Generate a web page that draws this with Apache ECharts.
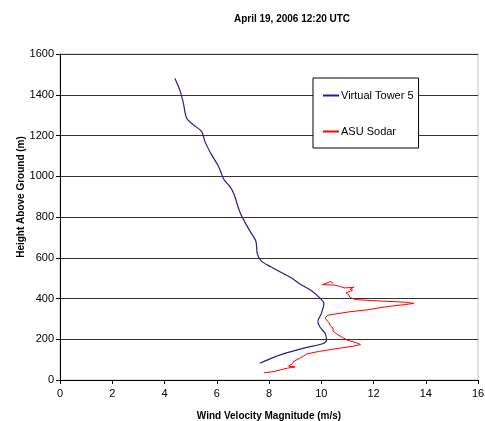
<!DOCTYPE html>
<html>
<head>
<meta charset="utf-8">
<script src="https://cdn.jsdelivr.net/npm/echarts@6/dist/echarts.min.js"></script>
<style>
html,body{margin:0;padding:0;background:#fff;}
#chart{width:485px;height:421px;}
</style>
</head>
<body>
<div id="chart"></div>
<script>
var titleText = 'April 19, 2006 12:20 UTC';
var xAxisName = 'Wind Velocity Magnitude (m/s)';
var yAxisName = 'Height Above Ground (m)';
var seriesNames = ['Virtual Tower 5', 'ASU Sodar'];

// [wind speed (m/s), height (m)]
var virtualTower5 = [
  [7.65,82],[8.15,110],[8.7,134],[9.45,160],[10.05,178],[10.2,195],[10.15,228],
  [9.95,260],[9.87,287],[10.0,325],[10.1,375],[9.95,402],[9.6,440],[9.2,470],
  [8.8,505],[8.05,557],[7.7,585],[7.55,620],[7.5,680],[7.25,735],[6.9,820],
  [6.65,915],[6.5,950],[6.27,985],[6.07,1048],[5.8,1106],[5.55,1170],[5.42,1220],
  [5.1,1253],[4.85,1285],[4.72,1360],[4.6,1418],[4.4,1480]
];

var asuSodar = [
  [7.8,35],[8.2,42],[8.45,50],[8.7,58],[9.0,64],[8.75,68],[8.9,80],[8.95,92],
  [9.2,108],[9.45,128],[9.9,140],[10.4,150],[10.75,157],[11.2,165],[11.5,174],
  [11.3,185],[11.0,195],[10.8,210],[10.6,225],[10.45,240],[10.45,255],[10.35,265],
  [10.3,280],[10.2,295],[10.15,305],[10.25,318],[10.6,325],[11.1,335],[11.8,345],
  [12.5,360],[13.2,370],[13.55,376],[13.2,382],[12.2,388],[11.3,395],[11.1,405],
  [11.05,418],[10.95,428],[11.2,440],[11.1,445],[11.25,455],[10.9,452],[10.7,460],
  [10.5,466],[10.05,468],[10.35,483],[10.45,476]
];

var chart = echarts.init(document.getElementById('chart'), null, {renderer:'canvas'});
var font = 'Liberation Sans, Arial, sans-serif';
chart.setOption({
  animation: false,
  backgroundColor: '#fff',
  title: {
    text: titleText,
    left: 287, top: 9, textAlign: 'center',
    textStyle: {fontFamily: font, fontSize: 10, fontWeight: 'bold', color: '#000'}
  },
  legend: {
    orient: 'vertical',
    left: 313, top: 78,
    itemGap: 25,
    padding: [12, 5, 11, 10],
    itemWidth: 16, itemHeight: 2,
    icon: 'rect',
    borderColor: '#000', borderWidth: 1,
    backgroundColor: '#fff',
    textStyle: {fontFamily: font, fontSize: 11, color: '#000', padding: [0,0,0,-3]},
    data: seriesNames
  },
  grid: {
    left: 60, right: 7, top: 54, bottom: 41,
    containLabel: false, outerBoundsMode: 'none',
    show: true, borderColor: '#c0c0c0', borderWidth: 1
  },
  xAxis: {
    type: 'value', min: 0, max: 16, interval: 2,
    name: xAxisName, nameLocation: 'middle', nameGap: 31,
    nameTextStyle: {fontFamily: font, fontSize: 10, fontWeight: 'bold', color: '#000'},
    axisLine: {show: true, onZero: false, lineStyle: {color: '#000', width: 1}},
    axisTick: {show: true, length: 4, lineStyle: {color: '#000'}},
    axisLabel: {fontFamily: font, fontSize: 11, color: '#000', margin: 8, formatter: function(v){return String(v);}},
    splitLine: {show: false}
  },
  yAxis: {
    type: 'value', min: 0, max: 1600, interval: 200,
    name: yAxisName, nameLocation: 'middle', nameGap: 34, nameMoveOverlap: false,
    nameTextStyle: {fontFamily: font, fontSize: 10, fontWeight: 'bold', color: '#000', padding: [0,0,0,40]},
    axisLine: {show: true, lineStyle: {color: '#000', width: 1}},
    axisTick: {show: true, length: 4, lineStyle: {color: '#000'}},
    axisLabel: {fontFamily: font, fontSize: 11, color: '#000', margin: 6, formatter: function(v){return String(v);}},
    splitLine: {show: true, lineStyle: {color: '#333', width: 1}}
  },
  series: [
    {
      name: seriesNames[0], type: 'line', data: virtualTower5,
      showSymbol: false, smooth: 0.3,
      lineStyle: {color: '#1f1f99', width: 1.2},
      itemStyle: {color: '#1f1f99'}
    },
    {
      name: seriesNames[1], type: 'line', data: asuSodar,
      showSymbol: false,
      lineStyle: {color: '#ff0000', width: 1},
      itemStyle: {color: '#ff0000'}
    }
  ]
});
</script>
</body>
</html>
